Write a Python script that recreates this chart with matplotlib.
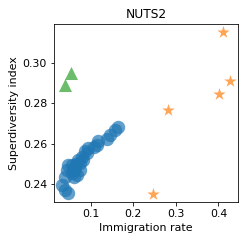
import matplotlib
matplotlib.use("Agg")
import matplotlib.pyplot as plt

# NUTS2 regions: immigration rate vs superdiversity index
circle_x = [0.1635, 0.157, 0.1455, 0.1376, 0.118, 0.114, 0.108, 0.0945, 0.0866, 0.090,
            0.0788, 0.0708, 0.0748, 0.0553, 0.047, 0.063, 0.0748, 0.0553, 0.0435, 0.067,
            0.0395, 0.0596, 0.0318, 0.0395, 0.0473, 0.0827, 0.0650, 0.0600]
circle_y = [0.2684, 0.2670, 0.2644, 0.2621, 0.2611, 0.2593, 0.2584, 0.2576, 0.2565, 0.2552,
            0.2535, 0.2518, 0.2502, 0.2493, 0.2493, 0.2477, 0.2468, 0.2452, 0.2468, 0.2443,
            0.2435, 0.2435, 0.2394, 0.2369, 0.2352, 0.2518, 0.2500, 0.2470]

star_x = [0.410, 0.4275, 0.4025, 0.2824, 0.2463]
star_y = [0.3154, 0.2910, 0.2849, 0.2769, 0.2347]

tri_x = [0.053, 0.0395]
tri_y = [0.2953, 0.2892]

fig = plt.figure(figsize=(250 / 72, 244 / 72), dpi=72)
ax = fig.add_axes([0.216, 0.172, 0.736, 0.730])

ax.scatter(circle_x, circle_y, s=180, marker="o", color="tab:blue", alpha=0.7, linewidths=0)
ax.scatter(star_x, star_y, s=170, marker="*", color="tab:orange", alpha=0.7, linewidths=0)
ax.scatter(tri_x, tri_y, s=170, marker="^", color="tab:green", alpha=0.7, linewidths=0)

ax.set_xlim(0.0136, 0.446)
ax.set_ylim(0.2309, 0.3196)
ax.set_xticks([0.1, 0.2, 0.3, 0.4])
ax.set_yticks([0.24, 0.26, 0.28, 0.30])
ax.set_yticklabels(["0.24", "0.26", "0.28", "0.30"])

ax.set_title("NUTS2", fontsize=12.3)
ax.set_xlabel("Immigration rate", fontsize=11)
ax.set_ylabel("Superdiversity index", fontsize=11)
ax.tick_params(labelsize=11)

fig.savefig("out.png", dpi=72)
